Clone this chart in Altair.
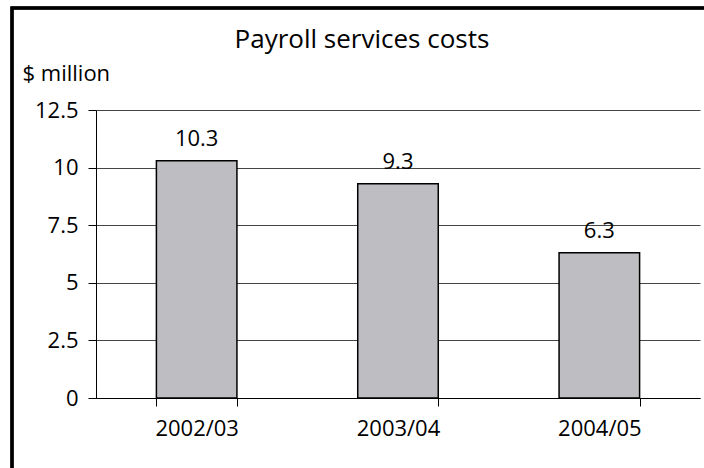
import altair as alt
import pandas as pd

years = ["2002/03", "2003/04", "2004/05"]
costs = [10.3, 9.3, 6.3]
y_ticks = [0, 2.5, 5, 7.5, 10, 12.5]
title_text = "Payroll services costs"
y_title = "$ million"

df = pd.DataFrame({"year": years, "cost": costs})
FONT = "Open Sans"
FS = 22

x = alt.X(
    "year:N", sort=years,
    scale=alt.Scale(paddingInner=0.6, paddingOuter=0.3),
    axis=alt.Axis(title=None, labelAngle=0, tickBand="extent", domainColor="black",
                  domainWidth=1, tickColor="black", tickSize=8, labelPadding=12,
                  labelFontSize=FS, labelFont=FONT, labelColor="black", grid=False),
)
y = alt.Y(
    "cost:Q", scale=alt.Scale(domain=[0, 12.5], nice=False),
    axis=alt.Axis(values=y_ticks, labelExpr="toString(datum.value)", title=y_title, titleAngle=0,
                  titleAlign="left", titleBaseline="alphabetic", titleX=-74, titleY=-30,
                  titleFont=FONT, titleFontSize=FS, titleFontWeight="normal", titleColor="black",
                  labelFont=FONT, labelFontSize=FS, labelColor="black", labelPadding=10,
                  tickColor="black", tickSize=8, domainColor="black",
                  grid=True, gridColor="#444444", gridWidth=1),
)

base = alt.Chart(df)

bars = base.mark_bar(color="#bebec2", stroke="black", strokeWidth=1.5).encode(x=x, y=y)
labels = base.mark_text(baseline="bottom", dy=-10, font=FONT, fontSize=FS, color="black").encode(
    x=alt.X("year:N", sort=years), y="cost:Q", text=alt.Text("cost:Q", format=".1f"))
frame = base.mark_rect(fill=None, stroke="black", strokeWidth=3).encode(
    x=alt.value(-84), x2=alt.value(700), y=alt.value(-102), y2=alt.value(600))
title = alt.Chart(pd.DataFrame({"t": [title_text]})).mark_text(
    align="center", baseline="alphabetic", font=FONT, fontSize=26, color="black").encode(
    x=alt.value(266), y=alt.value(-62), text="t:N")

chart = alt.layer(frame, bars, labels, title).properties(
    width=604, height=288,
    autosize=alt.AutoSizeParams(type="none"),
    padding={"left": 96, "top": 110, "right": 4, "bottom": 70},
).configure_view(stroke=None)

chart.save("out.html", embed_options={"renderer": "svg", "actions": False})
